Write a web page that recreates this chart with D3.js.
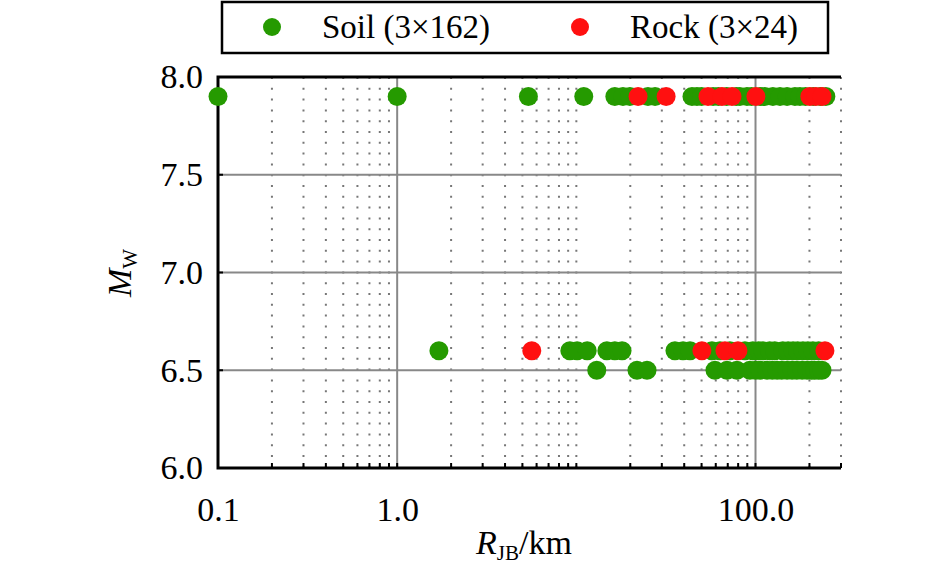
<!DOCTYPE html>
<html>
<head>
<meta charset="utf-8">
<script src="https://cdn.jsdelivr.net/npm/d3@7"></script>
<style>
  body { margin: 0; background: #fff; }
</style>
</head>
<body>
<div id="chart"></div>
<script>
// magnitude rows and the distances (km)
var seriesNames = ["Soil (3×162)", "Rock (3×24)"];
var seriesColors = ["#259a00", "#ff1010"];

var soilMw79 = [0.1, 1.0, 5.4, 11.0, 16.4, 18.2, 19.9, 25.1, 27.5, 44.2, 47.1, 50, 58, 62, 69, 78,
                81.8, 89.6, 95, 106, 112.8, 125, 137, 150, 166, 177, 190, 210, 230, 247];
var rockMw79 = [22.1, 31.7, 54.3, 65.0, 73.9, 100.5, 201, 217, 235];

var soilMw66 = [1.71, 9.2, 10.1, 11.5, 14.8, 16.4, 18.0, 35.5, 39.4, 43.1, 57.1, 63.3, 72, 87.3,
                96.7, 104, 110, 120, 128, 142, 152, 162, 172, 184, 196, 209, 225];
var rockMw66 = [5.64, 50.2, 67.5, 79.8, 244];

var soilMw65 = [13.0, 21.8, 24.8, 59.4, 69.3, 78.7, 93.0, 100, 106, 116, 124, 132, 140, 150, 160,
                170, 182, 194, 205, 214, 225, 235];

var xMajorTicks = [0.1, 1, 100];
var yTicks = [6.0, 6.5, 7.0, 7.5, 8.0];

var FONT = "Liberation Serif";

var margin = { top: 77, right: 104, bottom: 99, left: 218 },
    width  = 945 - margin.left - margin.right,
    height = 567 - margin.top - margin.bottom;

var svg = d3.select("#chart")
  .append("svg")
  .attr("width", 945)
  .attr("height", 567);

var g = svg.append("g")
  .attr("transform", "translate(" + margin.left + "," + margin.top + ")");

var x = d3.scaleLog()
  .domain([0.1, 300])
  .range([0, width]);

var y = d3.scaleLinear()
  .domain([6.0, 8.0])
  .range([height, 0]);

// minor positions: every 2..9 of each decade, plus 10, 200, 300
var minorTicks = [];
[0.1, 1, 10, 100].forEach(function (dec) {
  for (var k = 1; k <= 9; k++) {
    var v = dec * k;
    if (v <= 300 && xMajorTicks.indexOf(+v.toPrecision(6)) < 0) minorTicks.push(v);
  }
});

// dotted minor grid
g.append("g").selectAll("line").data(minorTicks).enter().append("line")
  .attr("x1", d => x(d)).attr("x2", d => x(d))
  .attr("y1", 0).attr("y2", height)
  .attr("stroke", "#777")
  .attr("stroke-width", 2)
  .attr("stroke-dasharray", "2,8.8");

// solid grid
g.append("g").selectAll("line").data([1, 100]).enter().append("line")
  .attr("x1", d => x(d)).attr("x2", d => x(d))
  .attr("y1", 0).attr("y2", height)
  .attr("stroke", "#888")
  .attr("stroke-width", 2);

g.append("g").selectAll("line").data([6.5, 7.0, 7.5]).enter().append("line")
  .attr("x1", 0).attr("x2", width)
  .attr("y1", d => y(d)).attr("y2", d => y(d))
  .attr("stroke", "#888")
  .attr("stroke-width", 2);

// axes
var xAxis = d3.axisBottom(x)
  .tickValues(xMajorTicks)
  .tickSize(0)
  .tickPadding(29)
  .tickFormat(d3.format(".1f"));

var xg = g.append("g")
  .attr("transform", "translate(0," + height + ")")
  .call(xAxis);
xg.select(".domain").remove();
xg.selectAll("text")
  .style("font-family", FONT)
  .style("font-size", "34px")
  .attr("fill", "#000");

// small inward ticks on bottom
g.append("g").selectAll("line").data(minorTicks.concat([1, 100])).enter().append("line")
  .attr("x1", d => x(d)).attr("x2", d => x(d))
  .attr("y1", height).attr("y2", height - 5)
  .attr("stroke", "#000")
  .attr("stroke-width", 2);

var yAxis = d3.axisLeft(y)
  .tickValues(yTicks)
  .tickSize(0)
  .tickPadding(15)
  .tickFormat(d3.format(".1f"));

var yg = g.append("g").call(yAxis);
yg.select(".domain").remove();
yg.selectAll("text")
  .style("font-family", FONT)
  .style("font-size", "34px")
  .attr("fill", "#000");

g.append("g").selectAll("line").data([6.5, 7.0, 7.5]).enter().append("line")
  .attr("x1", 0).attr("x2", 5)
  .attr("y1", d => y(d)).attr("y2", d => y(d))
  .attr("stroke", "#000")
  .attr("stroke-width", 2);

// frame: left, bottom, top
g.append("path")
  .attr("d", "M" + width + ",0H0V" + height + "H" + width)
  .attr("fill", "none")
  .attr("stroke", "#000")
  .attr("stroke-width", 3);

// points
var rows = [
  { mw: 7.9, soil: soilMw79, rock: rockMw79 },
  { mw: 6.6, soil: soilMw66, rock: rockMw66 },
  { mw: 6.5, soil: soilMw65, rock: [] }
];

var soilPts = [], rockPts = [];
rows.forEach(function (r) {
  r.soil.forEach(function (d) { soilPts.push({ r: d, m: r.mw }); });
  r.rock.forEach(function (d) { rockPts.push({ r: d, m: r.mw }); });
});

g.append("g").selectAll("circle").data(soilPts).enter().append("circle")
  .attr("cx", d => x(d.r))
  .attr("cy", d => y(d.m))
  .attr("r", 9.5)
  .attr("fill", seriesColors[0]);

g.append("g").selectAll("circle").data(rockPts).enter().append("circle")
  .attr("cx", d => x(d.r))
  .attr("cy", d => y(d.m))
  .attr("r", 9.5)
  .attr("fill", seriesColors[1]);

// axis titles
var xt = svg.append("text")
  .attr("x", 524)
  .attr("y", 554)
  .attr("text-anchor", "middle")
  .style("font-family", FONT)
  .style("font-size", "34px");
xt.append("tspan").style("font-style", "italic").text("R");
xt.append("tspan").style("font-size", "21px").attr("dy", 6).text("JB");
xt.append("tspan").attr("dy", -6).text("/km");

var yt = svg.append("text")
  .attr("transform", "translate(131,273) rotate(-90)")
  .attr("text-anchor", "middle")
  .style("font-family", FONT)
  .style("font-size", "34px");
yt.append("tspan").style("font-style", "italic").text("M");
yt.append("tspan").style("font-size", "21px").attr("dy", 6).text("W");

// legend
var legend = svg.append("g");
legend.append("rect")
  .attr("x", 222).attr("y", 2)
  .attr("width", 606).attr("height", 51)
  .attr("fill", "#fff")
  .attr("stroke", "#000")
  .attr("stroke-width", 2.5);

var legendX = [272, 580];
seriesNames.forEach(function (name, i) {
  legend.append("circle")
    .attr("cx", legendX[i]).attr("cy", 27)
    .attr("r", 9)
    .attr("fill", seriesColors[i]);
  legend.append("text")
    .attr("x", legendX[i] + 50).attr("y", 38)
    .style("font-family", FONT)
    .style("font-size", "33px")
    .text(name);
});
</script>
</body>
</html>
